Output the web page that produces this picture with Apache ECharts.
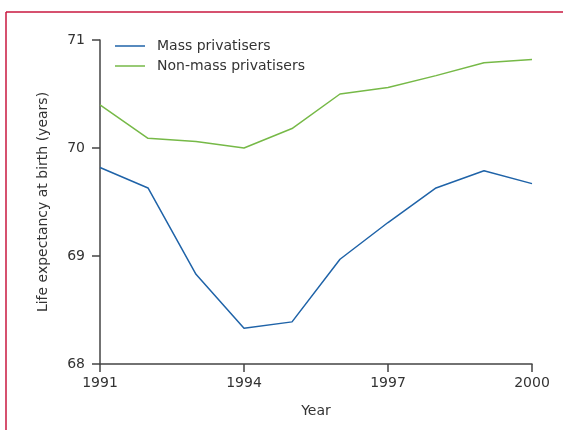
<!DOCTYPE html>
<html><head><meta charset="utf-8">
<script src="https://cdn.jsdelivr.net/npm/echarts@6/dist/echarts.min.js"></script>
<style>html,body{margin:0;padding:0;background:#fff}#c{width:563px;height:430px}</style>
</head><body><div id="c"></div>
<script>
var years = ['1991','1992','1993','1994','1995','1996','1997','1998','1999','2000'];
var massPrivatisers = [69.82, 69.63, 68.83, 68.33, 68.39, 68.97, 69.31, 69.63, 69.79, 69.67];
var nonMassPrivatisers = [70.40, 70.09, 70.06, 70.00, 70.18, 70.50, 70.56, 70.67, 70.79, 70.82];
var seriesNames = ['Mass privatisers', 'Non-mass privatisers'];

var font = 'DejaVu Sans';
var txt = '#333';
var axisCol = '#444';
var chart = echarts.init(document.getElementById('c'), null, {renderer: 'canvas'});
chart.setOption({
  animation: false,
  backgroundColor: '#fff',
  textStyle: {fontFamily: font},
  graphic: [
    {type: 'line', shape: {x1: 6, y1: 12, x2: 563, y2: 12}, style: {stroke: '#c8173f', lineWidth: 1.5}},
    {type: 'line', shape: {x1: 6, y1: 12, x2: 6, y2: 430}, style: {stroke: '#c8173f', lineWidth: 1.5}}
  ],
  grid: {left: 100, right: 31, top: 40, bottom: 66, containLabel: false},
  legend: {
    orient: 'vertical', left: 110, top: 34, itemGap: 6,
    itemWidth: 30, itemHeight: 14,
    icon: 'path://M0,6.5 L30,6.5 L30,8 L0,8 Z',
    textStyle: {fontFamily: font, fontSize: 14, color: txt, padding: [0,0,0,7]},
    data: [{name: seriesNames[0], itemStyle: {color: '#1f63a8'}}, {name: seriesNames[1], itemStyle: {color: '#76b947'}}]
  },
  xAxis: {
    type: 'category', data: years, boundaryGap: false,
    name: 'Year', nameLocation: 'middle', nameGap: 40,
    nameTextStyle: {fontFamily: font, fontSize: 14, color: txt},
    axisLine: {lineStyle: {color: axisCol, width: 1.5}},
    axisTick: {length: 8, interval: 2, lineStyle: {color: axisCol, width: 1.5}},
    axisLabel: {interval: 2, margin: 12, fontFamily: font, fontSize: 14, color: txt},
    splitLine: {show: false}
  },
  yAxis: {
    type: 'value', min: 68, max: 71, interval: 1,
    name: 'Life expectancy at birth (years)', nameLocation: 'middle', nameGap: 50,
    nameTextStyle: {fontFamily: font, fontSize: 14, color: txt},
    axisLine: {show: true, lineStyle: {color: axisCol, width: 1.5}},
    axisTick: {show: true, length: 8, lineStyle: {color: axisCol, width: 1.5}},
    axisLabel: {margin: 15, fontFamily: font, fontSize: 14, color: txt},
    splitLine: {show: false}
  },
  series: [
    {name: seriesNames[0], type: 'line', data: massPrivatisers, symbol: 'none', lineStyle: {color: '#1f63a8', width: 1.5}, itemStyle: {color: '#1f63a8'}},
    {name: seriesNames[1], type: 'line', data: nonMassPrivatisers, symbol: 'none', lineStyle: {color: '#76b947', width: 1.5}, itemStyle: {color: '#76b947'}}
  ]
});
</script></body></html>
